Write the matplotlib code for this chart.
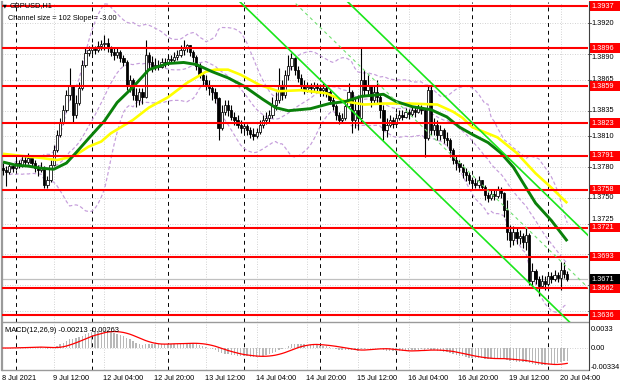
import numpy as np
import pandas as pd
import matplotlib
matplotlib.use("Agg")
import matplotlib.pyplot as plt
from matplotlib.patches import Rectangle

plt.rcParams['font.family'] = ['Liberation Sans', 'DejaVu Sans']
FS = 5.3

# ---------------- data (GBPUSD H1) ----------------
first_open = 1.3779
close = [1.3777, 1.3775, 1.3781, 1.3779, 1.3784, 1.3782, 1.3787, 1.3785, 1.3789, 1.3784,
         1.3779, 1.3777, 1.3779, 1.3763, 1.3768, 1.3782, 1.3797, 1.3811, 1.3824, 1.3836,
         1.3850, 1.3860, 1.3831, 1.3843, 1.3857, 1.3880, 1.3891, 1.3894, 1.3897, 1.3894,
         1.3898, 1.3900, 1.3901, 1.3896, 1.3892, 1.3889, 1.3892, 1.3886, 1.3882, 1.3860,
         1.3865, 1.3850, 1.3845, 1.3853, 1.3848, 1.3889, 1.3882, 1.3878, 1.3880, 1.3878,
         1.3882, 1.3881, 1.3885, 1.3884, 1.3887, 1.3889, 1.3894, 1.3897, 1.3899, 1.3892,
         1.3887, 1.3879, 1.3870, 1.3865, 1.3860, 1.3857, 1.3853, 1.3847, 1.3818, 1.3834,
         1.3841, 1.3836, 1.3829, 1.3826, 1.3821, 1.3818, 1.3820, 1.3816, 1.3812, 1.3810,
         1.3814, 1.3821, 1.3826, 1.3828, 1.3831, 1.3841, 1.3845, 1.3860, 1.3850, 1.3870,
         1.3879, 1.3886, 1.3875, 1.3867, 1.3860, 1.3855, 1.3858, 1.3857, 1.3859, 1.3857,
         1.3855, 1.3857, 1.3853, 1.3845, 1.3840, 1.3831, 1.3826, 1.3828, 1.3840, 1.3853,
         1.3826, 1.3836, 1.3828, 1.3865, 1.3855, 1.3860, 1.3845, 1.3853, 1.3848, 1.3836,
         1.3816, 1.3821, 1.3826, 1.3822, 1.3828, 1.3831, 1.3829, 1.3834, 1.3832, 1.3836,
         1.3834, 1.3838, 1.3836, 1.3808, 1.3855, 1.3816, 1.3821, 1.3811, 1.3816, 1.3808,
         1.3806, 1.3797, 1.3787, 1.3784, 1.3780, 1.3775, 1.3772, 1.3768, 1.3765, 1.3763,
         1.3768, 1.3761, 1.3753, 1.3750, 1.3754, 1.3752, 1.3758, 1.3755, 1.3738, 1.3717,
         1.3709, 1.3717, 1.3711, 1.3713, 1.3707, 1.3714, 1.3669, 1.3679, 1.3671, 1.3664,
         1.3669, 1.3666, 1.3674, 1.3671, 1.3675, 1.3672, 1.3680, 1.3676, 1.3671]
high = [1.3784, 1.3781, 1.3785, 1.3783, 1.3789, 1.3787, 1.3791, 1.3792, 1.3794, 1.3790,
        1.3787, 1.3782, 1.3785, 1.3781, 1.3771, 1.3787, 1.3802, 1.3816, 1.3828, 1.3841,
        1.3855, 1.3877, 1.3860, 1.3850, 1.3863, 1.3884, 1.3896, 1.3898, 1.3900, 1.3898,
        1.3903, 1.3904, 1.3909, 1.3906, 1.3898, 1.3896, 1.3896, 1.3894, 1.3889, 1.3884,
        1.3870, 1.3867, 1.3857, 1.3857, 1.3857, 1.3904, 1.3892, 1.3888, 1.3886, 1.3884,
        1.3886, 1.3886, 1.3889, 1.3889, 1.3892, 1.3894, 1.3899, 1.3904, 1.3900, 1.3898,
        1.3894, 1.3889, 1.3881, 1.3873, 1.3870, 1.3865, 1.3860, 1.3857, 1.3848, 1.3841,
        1.3845, 1.3845, 1.3841, 1.3834, 1.3831, 1.3826, 1.3824, 1.3822, 1.3819, 1.3818,
        1.3818, 1.3826, 1.3831, 1.3834, 1.3836, 1.3848, 1.3853, 1.3877, 1.3865, 1.3875,
        1.3889, 1.3891, 1.3887, 1.3879, 1.3871, 1.3865, 1.3863, 1.3862, 1.3863, 1.3862,
        1.3861, 1.3862, 1.3860, 1.3855, 1.3849, 1.3842, 1.3834, 1.3833, 1.3845, 1.3862,
        1.3855, 1.3847, 1.3850, 1.3897, 1.3875, 1.3870, 1.3860, 1.3860, 1.3865, 1.3850,
        1.3841, 1.3828, 1.3831, 1.3829, 1.3833, 1.3836, 1.3836, 1.3838, 1.3837, 1.3840,
        1.3839, 1.3842, 1.3841, 1.3836, 1.3860, 1.3859, 1.3828, 1.3826, 1.3821, 1.3818,
        1.3814, 1.3808, 1.3799, 1.3791, 1.3787, 1.3783, 1.3779, 1.3775, 1.3770, 1.3769,
        1.3771, 1.3768, 1.3763, 1.3756, 1.3758, 1.3758, 1.3762, 1.3761, 1.3756, 1.3748,
        1.3724, 1.3723, 1.3721, 1.3719, 1.3716, 1.3721, 1.3716, 1.3687, 1.3681, 1.3674,
        1.3675, 1.3674, 1.3678, 1.3678, 1.3680, 1.3678, 1.3688, 1.3688, 1.3679]
low = [1.3772, 1.3762, 1.3773, 1.3775, 1.3777, 1.3779, 1.3780, 1.3781, 1.3783, 1.3781,
       1.3775, 1.3771, 1.3775, 1.3760, 1.3760, 1.3766, 1.3781, 1.3795, 1.3809, 1.3822,
       1.3834, 1.3845, 1.3823, 1.3828, 1.3841, 1.3855, 1.3878, 1.3888, 1.3890, 1.3890,
       1.3892, 1.3894, 1.3894, 1.3892, 1.3888, 1.3884, 1.3886, 1.3882, 1.3879, 1.3855,
       1.3853, 1.3845, 1.3839, 1.3841, 1.3842, 1.3847, 1.3875, 1.3873, 1.3875, 1.3875,
       1.3877, 1.3878, 1.3880, 1.3881, 1.3882, 1.3884, 1.3887, 1.3889, 1.3892, 1.3888,
       1.3882, 1.3875, 1.3867, 1.3860, 1.3855, 1.3850, 1.3845, 1.3843, 1.3806, 1.3816,
       1.3831, 1.3830, 1.3826, 1.3821, 1.3818, 1.3813, 1.3814, 1.3811, 1.3808, 1.3806,
       1.3808, 1.3812, 1.3818, 1.3822, 1.3824, 1.3828, 1.3836, 1.3843, 1.3845, 1.3847,
       1.3865, 1.3875, 1.3870, 1.3863, 1.3855, 1.3851, 1.3853, 1.3852, 1.3853, 1.3853,
       1.3850, 1.3849, 1.3848, 1.3842, 1.3836, 1.3826, 1.3822, 1.3823, 1.3826, 1.3838,
       1.3813, 1.3818, 1.3816, 1.3824, 1.3850, 1.3850, 1.3839, 1.3843, 1.3843, 1.3828,
       1.3806, 1.3809, 1.3819, 1.3818, 1.3822, 1.3826, 1.3826, 1.3828, 1.3827, 1.3830,
       1.3829, 1.3833, 1.3832, 1.3790, 1.3806, 1.3811, 1.3811, 1.3806, 1.3806, 1.3804,
       1.3801, 1.3790, 1.3783, 1.3777, 1.3775, 1.3769, 1.3767, 1.3764, 1.3761, 1.3760,
       1.3760, 1.3758, 1.3748, 1.3746, 1.3748, 1.3748, 1.3750, 1.3750, 1.3731, 1.3709,
       1.3702, 1.3704, 1.3705, 1.3705, 1.3701, 1.3699, 1.3665, 1.3664, 1.3666, 1.3655,
       1.3662, 1.3660, 1.3664, 1.3667, 1.3669, 1.3668, 1.3660, 1.3672, 1.3669]

# moving averages read at sample bars
ma30_bars = [0, 4, 8, 12, 16, 20, 23, 27, 32, 36, 41, 46, 52, 57, 61, 66, 71, 76, 82, 86,
             90, 97, 103, 108, 113, 120, 124, 129, 135, 140, 144, 148, 153, 157, 161, 164,
             168, 173, 176, 178]
ma30_vals = [1.3785, 1.3782, 1.3781, 1.3779, 1.3778, 1.3784, 1.3794, 1.3808, 1.3825, 1.3843,
             1.3858, 1.3875, 1.3881, 1.3882, 1.3880, 1.3873, 1.3867, 1.3859, 1.3846, 1.3838,
             1.3835, 1.3837, 1.3842, 1.3844, 1.3849, 1.3851, 1.3844, 1.3839, 1.3836, 1.3829,
             1.3819, 1.3812, 1.3804, 1.3794, 1.3780, 1.3765, 1.3745, 1.3728, 1.3716, 1.3708]
ma50_bars = [0, 3, 12, 17, 20, 23, 27, 31, 34, 41, 46, 52, 58, 64, 67, 71, 75, 81, 87, 94,
             102, 108, 114, 120, 128, 137, 142, 145, 148, 156, 162, 168, 173, 178]
ma50_vals = [1.3793, 1.3792, 1.3789, 1.3787, 1.3789, 1.3792, 1.3800, 1.3805, 1.3813, 1.3826,
             1.3838, 1.3848, 1.3862, 1.3873, 1.3875, 1.3875, 1.3870, 1.3860, 1.3854, 1.3855,
             1.3852, 1.3844, 1.3841, 1.3842, 1.3842, 1.3841, 1.3834, 1.3828, 1.3819, 1.3809,
             1.3794, 1.3774, 1.3760, 1.3745]

levels = [1.3937, 1.3896, 1.3859, 1.3823, 1.3791, 1.3758, 1.3721, 1.3693, 1.3662, 1.3636]
current_price = 1.3671
price_ticks = [1.3920, 1.3890, 1.3865, 1.3835, 1.3810, 1.3780, 1.3750, 1.3725, 1.3695, 1.3665, 1.3640]
# labels that are not covered by a level box (small vertical nudges where a box is adjacent)
price_labels = [1.3920, 1.3890, 1.3865, 1.3835, 1.3810, 1.3780, 1.3750, 1.3725]
price_label_nudge_px = [0, 3, 0, 0, 0, 0, 0, -4]

time_label_bars = [0, 16, 32, 48, 64, 80, 96, 112, 128, 144, 160, 176]
time_labels = ["8 Jul 2021", "9 Jul 12:00", "12 Jul 04:00", "12 Jul 20:00", "13 Jul 12:00",
               "14 Jul 04:00", "14 Jul 20:00", "15 Jul 12:00", "16 Jul 04:00", "16 Jul 20:00",
               "19 Jul 12:00", "20 Jul 04:00"]
day_sep_bars = [4, 28, 52, 76, 100, 124, 148, 172]

channel_anchor_bar = 100
channel_lower_at_anchor = 1.38653
channel_slope = -0.0003
channel_size = 0.0102
channel_from_bar = 55

macd_ticks = [0.0033, 0.0, -0.00334]
macd_tick_labels = ["0.0033", "0.00", "-0.00334"]

# ---------------- figure geometry (pixels) ----------------
W, H = 620, 388
def fx(px):
    return px / W
def fy(py):
    return 1 - py / H

fig = plt.figure(figsize=(6.2, 3.88), dpi=100)
fig.patch.set_facecolor('white')
ax = fig.add_axes([fx(2), fy(322), (588 - 2) / W, 320 / H])
axm = fig.add_axes([fx(2), fy(370), (588 - 2) / W, 46 / H])
axr = fig.add_axes([fx(588), fy(322), 32 / W, 320 / H])
axmr = fig.add_axes([fx(588), fy(370), 32 / W, 46 / H])

n = len(close)
idx = np.arange(n)
c = np.array(close)
o = np.array([first_open] + close[:-1])
h = np.maximum(np.array(high), np.maximum(o, c))
l = np.minimum(np.array(low), np.minimum(o, c))

XL = (-0.32, 184.54)
YL = (1.36292, 1.39409)
ML = (-0.00382, 0.00417)
px_per_price = 320 / (YL[1] - YL[0])

for a in (ax, axm):
    a.set_xlim(*XL)
    a.set_xticks([])
    a.set_yticks([])
    for s_ in ('top', 'right'):
        a.spines[s_].set_visible(False)
    a.spines['left'].set_color('#9a9a9a')
    a.spines['left'].set_linewidth(1.6)
    a.spines['bottom'].set_color('#9a9a9a')
    a.spines['bottom'].set_linewidth(1.0)
ax.set_ylim(*YL)
axm.set_ylim(*ML)

for a in (axr, axmr):
    a.set_xlim(0, 1)
    a.axis('off')
axr.set_ylim(*YL)
axmr.set_ylim(*ML)

# right axis line
fig.add_artist(plt.Line2D([fx(588.5), fx(588.5)], [fy(2), fy(370)], color='#404040', lw=0.8))

# grid
grid_kw = dict(color='#c4c4c4', lw=0.6, linestyle=(0, (1, 2)), zorder=0)
for b in time_label_bars[1:]:
    ax.axvline(b, **grid_kw)
    axm.axvline(b, **grid_kw)
for t in price_ticks:
    ax.axhline(t, **grid_kw)
axm.axhline(0, **grid_kw)
for b in day_sep_bars:
    ax.axvline(b, color='black', lw=0.7, linestyle=(0, (4, 4)), zorder=1)
    axm.axvline(b, color='black', lw=0.7, linestyle=(0, (4, 4)), zorder=1)

# current price line
ax.axhline(current_price, color='#c0c0c0', lw=0.9, zorder=1)

# Bollinger bands (20, 2) computed from closes
s = pd.Series(c)
mid = s.rolling(20, min_periods=3).mean()
sd = s.rolling(20, min_periods=3).std(ddof=0)
bb_kw = dict(color='#c59ddb', lw=0.85, linestyle=(0, (3, 2)), zorder=2)
ax.plot(idx, mid + 2 * sd, **bb_kw)
ax.plot(idx, mid - 2 * sd, **bb_kw)
ax.plot(idx, mid, **bb_kw)

# candles
ax.vlines(idx, l, h, color='black', lw=0.8, zorder=3)
up = c >= o
body = np.maximum(np.abs(c - o), 0.00005)
bot = np.minimum(o, c)
ax.bar(idx[up], body[up], bottom=bot[up], width=0.7, color='white',
       edgecolor='black', linewidth=0.55, zorder=4)
ax.bar(idx[~up], body[~up], bottom=bot[~up], width=0.7, color='black',
       edgecolor='black', linewidth=0.55, zorder=4)

# moving averages
ax.plot(ma50_bars, ma50_vals, color='#ffff00', lw=1.9, zorder=5, solid_capstyle='butt')
ax.plot(ma30_bars, ma30_vals, color='#0a800a', lw=2.1, zorder=6, solid_capstyle='butt')

# horizontal levels
for lv in levels:
    ax.axhline(lv, color='#ff0000', lw=1.5, zorder=7)

# regression channel
cb = np.array([channel_from_bar, XL[1] + 1])
lower = channel_lower_at_anchor + channel_slope * (cb - channel_anchor_bar)
ax.plot(cb, lower, color='#19e619', lw=1.2, zorder=8)
ax.plot(cb, lower + channel_size, color='#19e619', lw=1.2, zorder=8)
ax.plot(cb, lower + channel_size / 2, color='#70e070', lw=0.8,
        linestyle=(0, (3, 3)), zorder=8)

# MACD (12, 26, 9) computed from closes
ema12 = s.ewm(span=12, adjust=False).mean()
ema26 = s.ewm(span=26, adjust=False).mean()
macd = ema12 - ema26
signal = macd.rolling(9, min_periods=1).mean()
axm.bar(idx, macd, width=0.45, color='#b8b8b8', zorder=2)
axm.plot(idx, signal, color='#ff0000', lw=0.9, zorder=3)

# right price scale
for t in price_ticks:
    axr.plot([0, 0.08], [t, t], color='#404040', lw=0.6)
for t, nudge in zip(price_labels, price_label_nudge_px):
    axr.text(0.12, t - nudge / px_per_price, f"{t:.4f}", fontsize=FS, va='center', ha='left',
             color='black', zorder=1)
hh = 0.00045
for lv in levels:
    axr.add_patch(Rectangle((0.03, lv - hh), 1.0, 2 * hh, facecolor='#ff0000',
                            edgecolor='none', zorder=3, clip_on=False))
    axr.text(0.12, lv, f"{lv:.4f}", fontsize=FS, va='center', ha='left', color='white', zorder=4)
axr.add_patch(Rectangle((0.03, current_price - hh), 1.0, 2 * hh, facecolor='black',
                        edgecolor='none', zorder=3, clip_on=False))
axr.text(0.12, current_price, f"{current_price:.4f}", fontsize=FS, va='center', ha='left',
         color='white', zorder=4)

for t, lab in zip(macd_ticks, macd_tick_labels):
    axmr.text(0.08, t, lab, fontsize=FS, va='center', ha='left', color='black')

# time labels
for b, lab in zip(time_label_bars, time_labels):
    xpix = 3 + 3.17 * b
    fig.text(fx(xpix - 1), fy(378), lab, fontsize=FS, va='center', ha='left', color='black')

# titles
fig.text(fx(3), fy(6), "\u25BC", fontsize=3.5, va='center', ha='left', color='black',
         family='DejaVu Sans')
fig.text(fx(10), fy(6), "GBPUSD,H1", fontsize=FS, va='center', ha='left', color='black')
fig.text(fx(8), fy(18.5), "Channel size = 102 Slope = -3.00", fontsize=FS, va='center',
         ha='left', color='black')
fig.text(fx(5), fy(330), "MACD(12,26,9) -0.00213 -0.00263", fontsize=FS, va='center',
         ha='left', color='black')

fig.savefig("out.png", dpi=100, facecolor='white')
